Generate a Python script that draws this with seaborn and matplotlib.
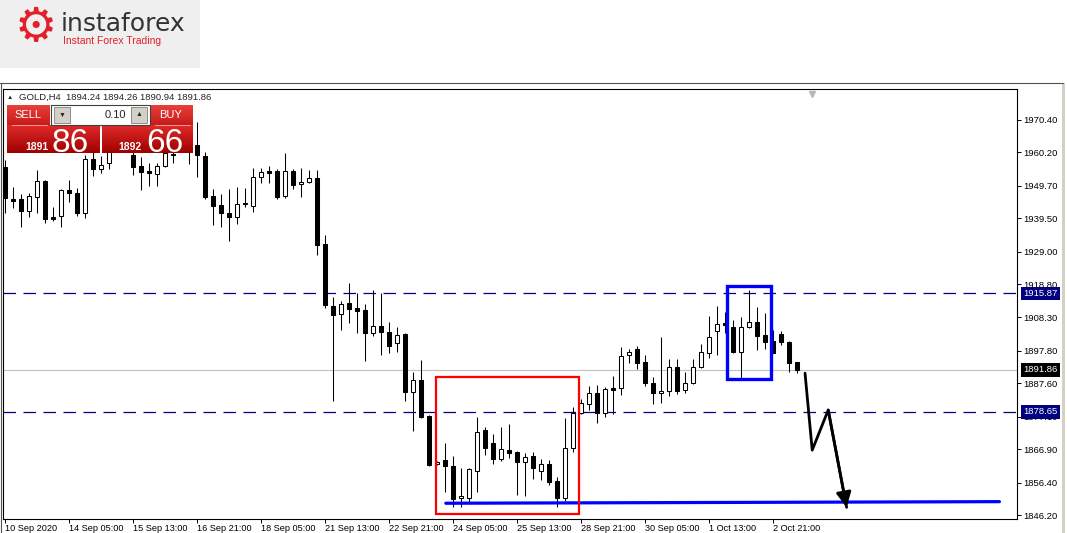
import numpy as np
import pandas as pd
import matplotlib
matplotlib.use("Agg")
import matplotlib.pyplot as plt
import seaborn as sns
from matplotlib.patches import Rectangle
from matplotlib.colors import LinearSegmentedColormap

# GOLD H4 candles, oldest first
opens = [1955.6, 1945.6, 1945.6, 1941.8, 1946.2, 1951.2, 1939.9, 1940.2, 1948.4, 1947.4,
         1941.2, 1958.1, 1955.0, 1956.9, 1961.0, 1964.7, 1959.4, 1955.9, 1954.4, 1953.4,
         1955.9, 1959.7, 1961.6, 1961.0, 1962.5, 1959.1, 1946.5, 1943.7, 1941.2, 1939.9,
         1944.0, 1943.4, 1952.5, 1954.4, 1954.4, 1946.5, 1954.4, 1950.3, 1950.9, 1952.2,
         1931.4, 1911.9, 1909.4, 1912.9, 1911.3, 1910.7, 1903.4, 1905.6, 1903.7, 1900.3,
         1903.1, 1884.9, 1888.6, 1877.3, 1862.2, 1863.5, 1861.6, 1851.5, 1851.5, 1860.0,
         1872.9, 1868.8, 1863.8, 1866.6, 1866.0, 1862.9, 1864.8, 1860.0, 1862.2, 1856.9,
         1851.5, 1867.2, 1878.3, 1881.1, 1884.6, 1878.3, 1886.1, 1886.1, 1896.5, 1898.4,
         1894.3, 1887.7, 1884.6, 1885.2, 1892.7, 1885.5, 1887.7, 1892.7, 1897.1, 1904.0,
         1906.6, 1905.3, 1897.4, 1905.3, 1906.9, 1902.8, 1900.9, 1903.1, 1900.6, 1894.24]
highs = [1957.8, 1949.3, 1947.1, 1947.4, 1954.7, 1951.5, 1943.0, 1948.7, 1951.5, 1949.0,
         1959.4, 1961.0, 1959.1, 1962.5, 1965.7, 1967.3, 1961.6, 1958.8, 1956.9, 1956.9,
         1961.0, 1961.0, 1965.7, 1964.1, 1969.8, 1960.3, 1948.7, 1947.1, 1948.7, 1949.3,
         1949.0, 1955.3, 1955.3, 1955.9, 1955.0, 1960.0, 1955.0, 1955.3, 1954.7, 1954.7,
         1934.2, 1914.7, 1913.5, 1919.1, 1916.0, 1912.5, 1916.9, 1916.0, 1906.9, 1905.3,
         1903.4, 1891.2, 1894.9, 1877.6, 1863.2, 1868.8, 1864.8, 1861.0, 1861.0, 1877.0,
         1873.9, 1871.6, 1873.9, 1874.8, 1866.3, 1865.7, 1866.0, 1863.8, 1863.5, 1858.2,
         1876.7, 1880.2, 1882.7, 1886.8, 1887.1, 1886.4, 1889.9, 1899.0, 1898.4, 1899.3,
         1896.5, 1889.6, 1902.2, 1895.3, 1895.3, 1891.2, 1895.3, 1899.9, 1908.8, 1911.9,
         1910.0, 1907.5, 1908.5, 1916.9, 1911.6, 1909.7, 1904.4, 1904.0, 1900.9, 1894.26]
lows = [1941.2, 1942.7, 1936.8, 1939.9, 1941.2, 1938.0, 1938.6, 1936.8, 1944.6, 1940.2,
        1939.6, 1952.8, 1953.7, 1955.0, 1960.3, 1961.0, 1953.1, 1948.4, 1949.6, 1949.6,
        1955.6, 1956.9, 1961.0, 1956.6, 1952.5, 1945.6, 1937.4, 1936.8, 1932.4, 1937.7,
        1943.0, 1941.5, 1950.6, 1950.6, 1945.6, 1945.9, 1948.7, 1946.2, 1950.6, 1927.9,
        1911.3, 1882.0, 1904.4, 1906.6, 1903.4, 1894.6, 1902.5, 1896.5, 1897.0, 1897.4,
        1882.1, 1872.6, 1876.7, 1861.6, 1861.9, 1853.4, 1848.7, 1848.7, 1850.3, 1853.4,
        1865.0, 1862.2, 1863.2, 1864.1, 1852.5, 1852.2, 1857.5, 1857.2, 1855.6, 1848.7,
        1850.6, 1866.0, 1877.9, 1879.2, 1875.1, 1877.0, 1877.9, 1883.9, 1894.0, 1892.1,
        1886.8, 1881.1, 1881.4, 1883.6, 1884.2, 1884.6, 1887.4, 1892.4, 1895.6, 1896.5,
        1903.4, 1897.1, 1889.3, 1905.0, 1898.1, 1898.4, 1897.0, 1899.6, 1891.2, 1890.94]
closes = [1945.9, 1944.9, 1941.8, 1946.5, 1951.2, 1939.3, 1939.3, 1948.4, 1947.4, 1941.2,
          1958.1, 1955.0, 1956.3, 1961.0, 1964.1, 1962.5, 1955.6, 1954.0, 1953.7, 1955.9,
          1960.0, 1959.4, 1964.1, 1962.5, 1959.4, 1946.2, 1943.4, 1941.2, 1939.9, 1944.0,
          1944.3, 1952.5, 1954.0, 1953.7, 1946.2, 1954.4, 1949.9, 1950.9, 1952.2, 1931.1,
          1912.2, 1909.1, 1912.5, 1911.0, 1910.3, 1903.4, 1905.6, 1903.7, 1899.3, 1902.8,
          1884.9, 1888.6, 1877.0, 1861.9, 1862.9, 1861.6, 1851.2, 1852.2, 1860.7, 1872.3,
          1867.2, 1863.8, 1866.9, 1865.7, 1862.9, 1864.4, 1861.0, 1862.2, 1856.6, 1851.5,
          1867.2, 1878.3, 1881.4, 1884.6, 1878.3, 1885.8, 1885.5, 1896.2, 1897.4, 1894.0,
          1887.7, 1884.6, 1885.2, 1892.7, 1885.2, 1887.7, 1892.7, 1897.4, 1902.2, 1906.3,
          1905.9, 1897.4, 1905.3, 1906.9, 1902.5, 1900.6, 1897.0, 1900.6, 1894.0, 1891.86]

price_ticks = [1970.40, 1960.20, 1949.70, 1939.50, 1929.00, 1918.80, 1908.30,
               1897.80, 1887.60, 1877.10, 1866.90, 1856.40, 1846.20]
time_labels = ["10 Sep 2020", "14 Sep 05:00", "15 Sep 13:00", "16 Sep 21:00",
               "18 Sep 05:00", "21 Sep 13:00", "22 Sep 21:00", "24 Sep 05:00",
               "25 Sep 13:00", "28 Sep 21:00", "30 Sep 05:00", "1 Oct 13:00",
               "2 Oct 21:00"]
time_label_bars = [0, 8, 16, 24, 32, 40, 48, 56, 64, 72, 80, 88, 96]

resistance = 1915.87
support = 1878.65
bid = 1891.86
ask = 1892.66
lot = "0.10"

# drawn objects
low_line_bars = [55.1, 124.3]
low_line_prices = [1849.9, 1850.4]
red_box_bars = [53.9, 71.8]
red_box_prices = [1846.4, 1889.6]
blue_box_bars = [90.3, 95.7]
blue_box_prices = [1889.1, 1918.2]
path_bars = [100.0, 100.9, 102.9, 105.2]
path_prices = [1890.8, 1866.6, 1879.2, 1848.6]

df = pd.DataFrame({"open": opens, "high": highs, "low": lows, "close": closes})
df["bar"] = np.arange(len(df))
df["bull"] = df["close"] >= df["open"]

sns.set_style("white")
plt.rcParams["font.family"] = ["Liberation Sans", "DejaVu Sans"]

W, H = 1067, 533
fig = plt.figure(figsize=(W / 100, H / 100), dpi=100)


def px(x0, y0, x1, y1):
    return [x0 / W, 1 - y1 / H, (x1 - x0) / W, (y1 - y0) / H]


# window background, logo
back = fig.add_axes([0, 0, 1, 1])
back.set_xlim(0, W)
back.set_ylim(H, 0)
back.axis("off")
back.add_patch(Rectangle((0, 0), 200, 68, fc="#efefef", ec="none"))
back.text(36, 29, "\u2699", family="DejaVu Sans", fontsize=34, color="#e3202a",
          ha="center", va="center")
back.text(61, 24, "instaforex", family="DejaVu Sans", fontsize=18, color="#333333",
          ha="left", va="center")
back.text(63, 41, "Instant Forex Trading", fontsize=7.5, color="#e3202a",
          ha="left", va="center")
back.plot([0, 1063], [83, 83], color="#505050", lw=0.8)
back.plot([1, 1], [83, 533], color="#505050", lw=0.8)
back.add_patch(Rectangle((1062, 83), 3, 450, fc="#d4d0c8", ec="none"))

# chart
ax = fig.add_axes(px(3.4, 89.3, 1016.7, 518.6))
ax.axhline(bid, color="#c0c0c0", lw=0.8, zorder=1)
for lvl in (resistance, support):
    ax.axhline(lvl, color="#000080", lw=0.9, dashes=(10, 6), zorder=1)

ax.vlines(df["bar"], df["low"], df["high"], color="black", lw=0.75, zorder=2)
body_low = df[["open", "close"]].min(axis=1)
body_h = (df["close"] - df["open"]).abs().clip(lower=0.3)
ax.bar(df["bar"], body_h, bottom=body_low, width=0.5,
       color=np.where(df["bull"], "white", "black"), edgecolor="black",
       linewidth=0.75, zorder=3)

sns.lineplot(x=low_line_bars, y=low_line_prices, ax=ax, color="#0000ff", lw=2.3,
             sort=False, zorder=4)
ax.add_patch(Rectangle((red_box_bars[0], red_box_prices[0]),
                       red_box_bars[1] - red_box_bars[0],
                       red_box_prices[1] - red_box_prices[0],
                       fill=False, ec="#ff0000", lw=1.6, zorder=5))
ax.add_patch(Rectangle((blue_box_bars[0], blue_box_prices[0]),
                       blue_box_bars[1] - blue_box_bars[0],
                       blue_box_prices[1] - blue_box_prices[0],
                       fill=False, ec="#0000ff", lw=2.4, zorder=5))
sns.lineplot(x=path_bars, y=path_prices, ax=ax, color="black", lw=2.0,
             sort=False, zorder=6)
ax.annotate("", xy=(path_bars[-1], path_prices[-1]),
            xytext=(path_bars[-2], path_prices[-2]),
            arrowprops=dict(arrowstyle="-|>,head_length=0.9,head_width=0.45",
                            color="black", lw=2.0, shrinkA=0, shrinkB=0,
                            mutation_scale=10), zorder=6)

ax.set_xlim(-0.2, 126.46)
ax.set_ylim(1845.07, 1980.05)
ax.set_xlabel("")
ax.set_ylabel("")

ax.yaxis.tick_right()
ax.set_yticks(price_ticks)
ax.set_yticklabels([f"{v:.2f}" for v in price_ticks])
ax.set_xticks(time_label_bars)
ax.set_xticklabels(time_labels, ha="left")
ax.tick_params(axis="y", right=True, left=False, length=3, width=0.7, pad=1.5,
               labelsize=6.8, colors="black")
ax.tick_params(axis="x", bottom=True, length=3, width=0.7, pad=1.0,
               labelsize=6.6, colors="black")
for s in ax.spines.values():
    s.set_color("black")
    s.set_linewidth(0.8)

for lvl, fc in ((resistance, "#000080"), (support, "#000080"), (bid, "black")):
    ax.text(1.0062, lvl, f"{lvl:.2f}", transform=ax.get_yaxis_transform(),
            ha="left", va="center", fontsize=6.8, color="white",
            bbox=dict(boxstyle="square,pad=0.25", fc=fc, ec="none"),
            clip_on=False, zorder=10)

ax.plot([100.9], [0.99], marker="v", ms=5, color="#b8b8b8",
        transform=ax.get_xaxis_transform(), clip_on=False, zorder=7)

# header and one-click trading panel
front = fig.add_axes([0, 0, 1, 1], zorder=5)
front.axis("off")
last = df.iloc[-1]
front.text(7, 97.5, "\u25b2", fontsize=4.5, va="center", ha="left")
front.text(19, 97.5,
           f"GOLD,H4  {last.open:.2f} {last.high:.2f} {last.low:.2f} {last.close:.2f}",
           fontsize=6.8, va="center", ha="left")


def grad(x0, y0, x1, y1, top, bottom):
    cmap = LinearSegmentedColormap.from_list("g", [top, bottom])
    front.imshow(np.linspace(0, 1, 32).reshape(-1, 1), cmap=cmap,
                 extent=(x0, x1, y1, y0), aspect="auto", interpolation="bilinear",
                 zorder=1)


grad(7, 105, 50, 125, "#e8403c", "#c81a1a")
grad(151, 105, 193, 125, "#e8403c", "#c81a1a")
grad(7, 125, 100, 153, "#e02a2a", "#a00000")
grad(102, 125, 193, 153, "#e02a2a", "#a00000")
front.add_patch(Rectangle((51, 105), 99, 20, fc="white", ec="#404040", lw=0.8, zorder=2))
for bx, sym in ((54, "\u25bc"), (131, "\u25b2")):
    front.add_patch(Rectangle((bx, 107), 16, 16, fc="#d4d0c8", ec="#808080",
                              lw=0.6, zorder=3))
    front.text(bx + 8, 115, sym, fontsize=5, ha="center", va="center", zorder=4)
front.text(126, 115, lot, fontsize=8, ha="right", va="center", zorder=4)
front.text(28, 115, "SELL", fontsize=8, color="white", ha="center", va="center", zorder=4)
front.text(171, 115, "BUY", fontsize=8, color="white", ha="center", va="center", zorder=4)
front.plot([12, 47], [125, 125], color="#f4b0b0", lw=0.6, zorder=4)
front.plot([155, 190], [125, 125], color="#f4b0b0", lw=0.6, zorder=4)

for price, x_small, x_big in ((bid, 37, 70), (ask, 130, 165)):
    whole, frac = f"{price:.2f}".split(".")
    front.text(x_small, 150, whole, fontsize=7.5, fontweight="bold", color="white",
               ha="center", va="baseline", zorder=4)
    front.text(x_big, 151.5, frac, fontsize=24, color="white",
               ha="center", va="baseline", zorder=4)

front.set_xlim(0, W)
front.set_ylim(H, 0)

fig.savefig("out.png", dpi=100)
